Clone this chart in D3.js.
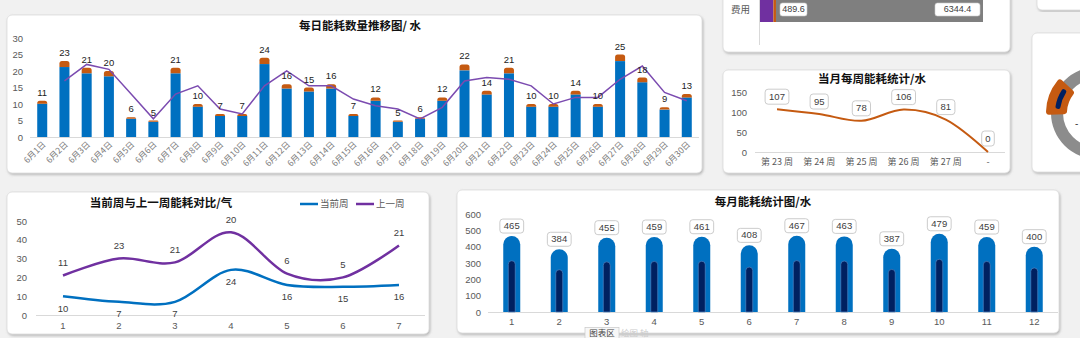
<!DOCTYPE html>
<html><head><meta charset="utf-8">
<script src="https://cdn.jsdelivr.net/npm/d3@7"></script>
<style>
html,body{margin:0;padding:0;background:#f1f1f1;overflow:hidden;}
svg{display:block;font-family:"Liberation Sans","Noto Sans CJK SC",sans-serif;}
</style></head><body>
<svg id="c" width="1080" height="338"></svg>
<script>
// ---------- data ----------
const days = ["6月1日","6月2日","6月3日","6月4日","6月5日","6月6日","6月7日","6月8日","6月9日","6月10日",
  "6月11日","6月12日","6月13日","6月14日","6月15日","6月16日","6月17日","6月18日","6月19日","6月20日",
  "6月21日","6月22日","6月23日","6月24日","6月25日","6月26日","6月27日","6月28日","6月29日","6月30日"];
const dailyTotal = [11,23,21,20,6,5,21,10,7,7,24,16,15,16,7,12,5,6,12,22,14,21,10,10,14,10,25,18,9,13];
const dailyBlue  = [10.1,21.2,19.3,18.4,5.5,4.6,19.3,9.2,6.4,6.4,22.1,14.7,13.8,14.7,6.4,11,4.6,5.5,11,20.2,12.9,19.3,9.2,9.2,12.9,9.2,23,16.6,8.3,12];
const dailyCap   = [0.9,1.8,1.7,1.6,0.5,0.4,1.7,0.8,0.6,0.6,1.9,1.3,1.2,1.3,0.6,1.0,0.4,0.5,1.0,1.8,1.1,1.7,0.8,0.8,1.1,0.8,2.0,1.4,0.7,1.0];
const dailyAvg   = [null,17,22,20.5,13,5.5,13,15.5,8.5,7,15.5,20,15.5,15.5,11.5,9.5,8.5,5.5,9,17,18,17.5,15.5,10,12,12,17.5,21.5,13.5,11];
const dailyTicks = [0,5,10,15,20,25,30];

const weeks = ["第 23 周","第 24 周","第 25 周","第 26 周","第 27 周","-"];
const weekValues = [107,95,78,106,81,0];
const weekTicks = [0,50,100,150];

const cmpDays = ["1","2","3","4","5","6","7"];
const curWeek  = [10,7,7,24,16,15,16];
const prevWeek = [11,23,21,20,6,5,21];
const cmpTicks = [0,10,20,30,40,50];

const months = ["1","2","3","4","5","6","7","8","9","10","11","12"];
const monthOuter = [465,384,455,459,461,408,467,463,387,479,459,400];
const monthInner = [314,259,307,310,311,275,315,312,261,323,310,270];
const monthTicks = [0,100,200,300,400,500,600];

const feeLabel = "费用";
const feeParts = [410, 79.6, 6344.4];
const feeLabels = ["489.6","6344.4"];

const C = {blue:"#0070C0", orange:"#C55A11", purple:"#7030A0", navy:"#002060", gray:"#808080", axis:"#595959", base:"#D9D9D9"};

// ---------- helpers ----------
const svg = d3.select("#c");
const defs = svg.append("defs");
const f = defs.append("filter").attr("id","sh").attr("x","-5%").attr("y","-5%").attr("width","110%").attr("height","115%");
f.append("feDropShadow").attr("dx",1).attr("dy",1.5).attr("stdDeviation",1).attr("flood-color","#888").attr("flood-opacity",0.55);

function card(x,y,w,h){
  svg.append("rect").attr("x",x).attr("y",y).attr("width",w).attr("height",h).attr("rx",5)
    .attr("fill","#fff").attr("stroke","#dcdcdc").attr("stroke-width",0.8).attr("filter","url(#sh)");
}
function title(x,y,t){
  svg.append("text").attr("x",x).attr("y",y).attr("text-anchor","middle").attr("dominant-baseline","middle")
    .attr("font-family","'Noto Sans CJK SC',sans-serif").attr("font-weight","bold").attr("font-size",11.5).attr("fill","#111").text(t);
}
function yAxis(scale, ticks, x){
  const g = svg.append("g").attr("transform",`translate(${x},0)`)
    .call(d3.axisLeft(scale).tickValues(ticks).tickSize(0).tickPadding(0));
  g.select(".domain").remove();
  g.selectAll("text").attr("fill",C.axis).attr("font-size",9.5).attr("font-family","'Liberation Sans',sans-serif");
  return g;
}
function baseLine(x1,x2,y){
  svg.append("line").attr("x1",x1).attr("x2",x2).attr("y1",y).attr("y2",y).attr("stroke",C.base).attr("stroke-width",1);
}
function labelBox(g, cx, bottom, txt, h){
  const tw = txt.length*5.6 + 7;
  g.append("rect").attr("x",cx-tw/2).attr("y",bottom-h).attr("width",tw).attr("height",h).attr("rx",3)
    .attr("fill","#fff").attr("stroke","#bfbfbf").attr("stroke-width",0.8);
  g.append("text").attr("x",cx).attr("y",bottom-h/2+0.5).attr("text-anchor","middle").attr("dominant-baseline","middle")
    .attr("font-size",9.5).attr("fill","#404040").text(txt);
}
function roundTopPath(x,y,w,h,r){
  r = Math.min(r, w/2, h);
  return `M${x},${y+h}V${y+r}A${r},${r} 0 0 1 ${x+r},${y}H${x+w-r}A${r},${r} 0 0 1 ${x+w},${y+r}V${y+h}Z`;
}

// ---------- cards ----------
card(7,15,695,158);
card(723,-10,287,62);
card(1037,-10,60,20);
card(723,70,287,103);
card(1032,33,60,139);
card(7,192,422,142);
card(457,190,602,143);

// ---------- daily chart ----------
{
  const x = d3.scaleBand().domain(days).range([31,698]).paddingInner(0.55).paddingOuter(0.28);
  const y = d3.scaleLinear().domain([0,30]).range([137,38]);
  title(360,27,"每日能耗数量推移图/ 水");
  yAxis(y, dailyTicks, 23);
  baseLine(30,699,137.5);
  const g = svg.append("g");
  days.forEach((d,i)=>{
    const bx = x(d), bw = x.bandwidth();
    g.append("rect").attr("x",bx).attr("y",y(dailyBlue[i])).attr("width",bw).attr("height",y(0)-y(dailyBlue[i])).attr("fill",C.blue);
    const top = dailyBlue[i]+dailyCap[i];
    g.append("path").attr("d",roundTopPath(bx,y(top),bw,y(dailyBlue[i])-y(top),2.5)).attr("fill",C.orange);
  });
  const line = d3.line().defined(d=>d!=null).x((d,i)=>x(days[i])+x.bandwidth()/2).y(d=>y(d));
  g.append("path").attr("d",line(dailyAvg)).attr("fill","none").attr("stroke","#7B4BB0").attr("stroke-width",1.5);
  days.forEach((d,i)=>{
    g.append("text").attr("x",x(d)+x.bandwidth()/2).attr("y",y(dailyBlue[i]+dailyCap[i])-5).attr("text-anchor","middle")
      .attr("font-size",9.5).attr("fill","#222").text(dailyTotal[i]);
    g.append("text").attr("transform",`translate(${x(d)+x.bandwidth()/2+4},${145}) rotate(-45)`).attr("text-anchor","end")
      .attr("font-size",8.5).attr("fill","#7a7a7a").attr("font-family","'Noto Sans CJK SC',sans-serif").text(d);
  });
}

// ---------- fee card (partial) ----------
{
  const x = d3.scaleLinear().domain([0, d3.sum(feeParts)]).range([760,983]);
  const cols = [C.purple, C.orange, "#7F7F7F"];
  let acc = 0;
  feeParts.forEach((v,i)=>{
    svg.append("rect").attr("x",x(acc)).attr("y",-5).attr("width",x(acc+v)-x(acc)).attr("height",27).attr("fill",cols[i]);
    acc += v;
  });
  svg.append("line").attr("x1",759.5).attr("x2",759.5).attr("y1",0).attr("y2",45).attr("stroke",C.base);
  svg.append("text").attr("x",750).attr("y",10).attr("text-anchor","end").attr("dominant-baseline","middle")
    .attr("font-family","'Noto Sans CJK SC',sans-serif").attr("font-size",9.5).attr("fill",C.axis).text(feeLabel);
  const g = svg.append("g");
  [[793.5,feeLabels[0],27],[957.5,feeLabels[1],45]].forEach(([cx,t,w])=>{
    g.append("rect").attr("x",cx-w/2).attr("y",3).attr("width",w).attr("height",13).attr("rx",2.5).attr("fill","#fff").attr("stroke","#ccc").attr("stroke-width",0.6);
    g.append("text").attr("x",cx).attr("y",10).attr("text-anchor","middle").attr("dominant-baseline","middle").attr("font-size",9).attr("fill","#404040").text(t);
  });
}

// ---------- donut (partial) ----------
{
  const g = svg.append("g").attr("transform","translate(1097,113)");
  const rad = a=>a*Math.PI/180;
  g.append("path").attr("d",d3.arc().innerRadius(34).outerRadius(46).startAngle(0).endAngle(2*Math.PI)()).attr("fill","#8C8C8C");
  g.append("path").attr("d",d3.arc().innerRadius(30).outerRadius(51).startAngle(rad(-92)).endAngle(rad(-47)).cornerRadius(3)()).attr("fill",C.orange);
  g.append("path").attr("d",d3.arc().innerRadius(37).outerRadius(42).startAngle(rad(-84)).endAngle(rad(-54)).cornerRadius(2)()).attr("fill",C.navy);
  svg.append("text").attr("x",1075).attr("y",127).attr("font-size",10).attr("fill","#404040").text("-");
}

// ---------- weekly chart ----------
{
  const x = d3.scalePoint().domain(weeks).range([777,988]);
  const y = d3.scaleLinear().domain([0,150]).range([152,92]);
  title(872,80,"当月每周能耗统计/水");
  yAxis(y, weekTicks, 747);
  baseLine(755,1005,152.5);
  const g = svg.append("g");
  const line = d3.line().x((d,i)=>x(weeks[i])).y(d=>y(d)).curve(d3.curveCardinal.tension(0));
  g.append("path").attr("d",line(weekValues)).attr("fill","none").attr("stroke",C.orange).attr("stroke-width",2);
  weeks.forEach((w,i)=>{
    labelBox(g, x(w), y(weekValues[i])-(weekValues[i]===0?6:5), String(weekValues[i]), 15);
    g.append("text").attr("x",x(w)).attr("y",163).attr("text-anchor","middle").attr("dominant-baseline","middle")
      .attr("font-family","'Noto Sans CJK SC',sans-serif").attr("font-size",9).attr("fill",C.axis).text(w);
  });
}

// ---------- compare chart ----------
{
  const x = d3.scalePoint().domain(cmpDays).range([63,399]);
  const y = d3.scaleLinear().domain([0,50]).range([315,221]);
  title(161,204,"当前周与上一周能耗对比/气");
  yAxis(y, cmpTicks, 27);
  baseLine(36,425,315.5);
  const rows = cmpDays.map((d,i)=>({d, cur:curWeek[i], prev:prevWeek[i]}));
  const stack = d3.stack().keys(["cur","prev"])(rows);
  const line = d3.line().x(p=>x(p.data.d)).y(p=>y(p[1])).curve(d3.curveCardinal.tension(0));
  const g = svg.append("g");
  g.append("path").attr("d",line(stack[0])).attr("fill","none").attr("stroke",C.blue).attr("stroke-width",2.5);
  g.append("path").attr("d",line(stack[1])).attr("fill","none").attr("stroke",C.purple).attr("stroke-width",2.5);
  stack[0].forEach(p=>{
    g.append("text").attr("x",x(p.data.d)).attr("y",y(p[1])+13).attr("text-anchor","middle").attr("dominant-baseline","middle")
      .attr("font-size",9.5).attr("fill","#404040").text(p.data.cur);
  });
  stack[1].forEach(p=>{
    g.append("text").attr("x",x(p.data.d)).attr("y",y(p[1])-12).attr("text-anchor","middle").attr("dominant-baseline","middle")
      .attr("font-size",9.5).attr("fill","#404040").text(p.data.prev);
  });
  cmpDays.forEach(d=>{
    g.append("text").attr("x",x(d)).attr("y",326).attr("text-anchor","middle").attr("dominant-baseline","middle")
      .attr("font-size",9.5).attr("fill",C.axis).text(d);
  });
  const lg = svg.append("g").attr("font-family","'Noto Sans CJK SC',sans-serif");
  [[300,C.blue,"当前周"],[356,C.purple,"上一周"]].forEach(([lx,c,t])=>{
    lg.append("line").attr("x1",lx).attr("x2",lx+18).attr("y1",204).attr("y2",204).attr("stroke",c).attr("stroke-width",2.5);
    lg.append("text").attr("x",lx+20).attr("y",204).attr("dominant-baseline","middle").attr("font-size",9.5).attr("fill",C.axis).text(t);
  });
}

// ---------- monthly chart ----------
{
  const x = d3.scaleBand().domain(months).range([488,1058]);
  const y = d3.scaleLinear().domain([0,600]).range([312,214]);
  title(763,203,"每月能耗统计图/水");
  yAxis(y, monthTicks, 481);
  baseLine(488,1058,312.5);
  const g = svg.append("g");
  months.forEach((m,i)=>{
    const cx = x(m)+x.bandwidth()/2;
    const ow = 17, iw = 7;
    g.append("path").attr("d",roundTopPath(cx-ow/2,y(monthOuter[i]),ow,y(0)-y(monthOuter[i]),ow/2)).attr("fill",C.blue);
    g.append("path").attr("d",roundTopPath(cx-iw/2,y(monthInner[i]),iw,y(0)-y(monthInner[i]),iw/2)).attr("fill",C.navy)
      .attr("stroke","#4F86C6").attr("stroke-width",0.7);
    labelBox(g, cx, y(monthOuter[i])-3, String(monthOuter[i]), 14);
    g.append("text").attr("x",cx).attr("y",322).attr("text-anchor","middle").attr("dominant-baseline","middle")
      .attr("font-size",9.5).attr("fill",C.axis).text(m);
  });
  // UI tooltip overlay seen in the reference
  svg.append("rect").attr("x",585).attr("y",327.5).attr("width",34).attr("height",12).attr("fill","#f7f7f7").attr("stroke","#c8c8c8").attr("stroke-width",0.7);
  svg.append("text").attr("x",602).attr("y",333.5).attr("text-anchor","middle").attr("dominant-baseline","middle")
    .attr("font-family","'Noto Sans CJK SC',sans-serif").attr("font-size",8.5).attr("fill","#444").text("图表区");
  svg.append("text").attr("x",621).attr("y",333.5).attr("dominant-baseline","middle")
    .attr("font-family","'Noto Sans CJK SC',sans-serif").attr("font-size",8.5).attr("fill","#ccc").text("绘图 轴");
}
</script>
</body></html>
